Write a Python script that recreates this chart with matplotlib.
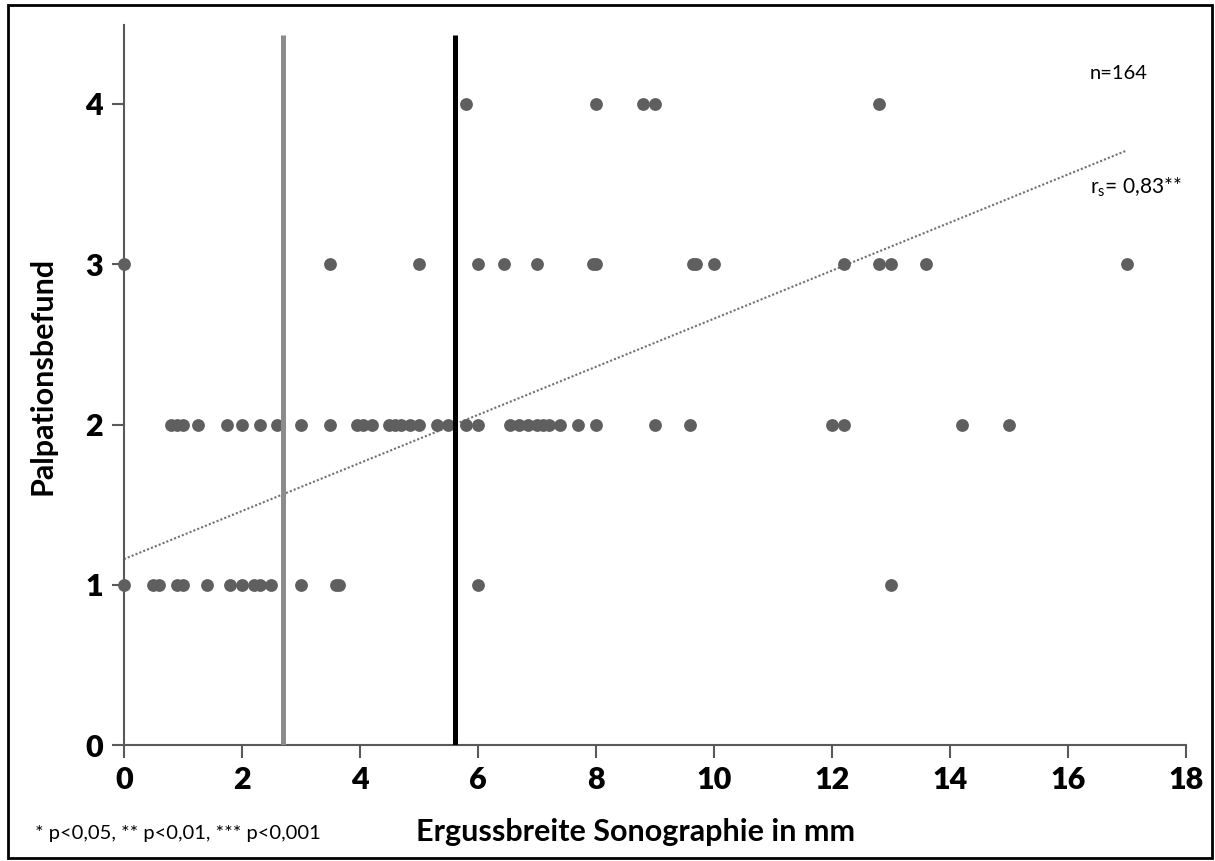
import matplotlib
matplotlib.use("Agg")
import matplotlib.pyplot as plt
import numpy as np
from matplotlib.patches import Rectangle

# ---- data ----
x_level4 = [5.8, 8.0, 8.8, 9.0, 12.8]
x_level3 = [0, 3.5, 5.0, 6.0, 6.45, 7.0, 7.95, 8.0, 9.65, 9.7, 10.0, 12.2, 12.8, 13.0, 13.6, 17.0]
x_level2 = [0.8, 0.9, 1.0, 1.25, 1.75, 2.0, 2.3, 2.6, 3.0, 3.5, 3.95, 4.05, 4.2, 4.5, 4.6,
            4.7, 4.85, 5.0, 5.3, 5.5, 5.8, 6.0, 6.55, 6.7, 6.85, 7.0, 7.1, 7.2, 7.4, 7.7,
            8.0, 9.0, 9.6, 12.0, 12.2, 14.2, 15.0]
x_level1 = [0, 0.5, 0.6, 0.9, 1.0, 1.4, 1.8, 2.0, 2.2, 2.3, 2.5, 3.0, 3.6, 3.65, 6.0, 13.0]
levels = [4, 3, 2, 1]

trend_x = [0, 17]
trend_y = [1.16, 3.71]

grey_line_x = 2.69
black_line_x = 5.61

x_ticks = [0, 2, 4, 6, 8, 10, 12, 14, 16, 18]
y_ticks = [0, 1, 2, 3, 4]

FONT = "Lato"
plt.rcParams['font.family'] = [FONT, 'DejaVu Sans']

fig = plt.figure(figsize=(12.15, 8.61), dpi=100)
ax = fig.add_axes([0.102, 0.1347, 0.874, 0.8363])

xs = []
ys = []
for lv, arr in zip(levels, [x_level4, x_level3, x_level2, x_level1]):
    xs += arr
    ys += [lv] * len(arr)
ax.scatter(xs, ys, s=85, color="#5f5f5f", zorder=3, linewidths=0, clip_on=False)

ax.plot(trend_x, trend_y, linestyle=(0, (1, 1)), color="#707070", linewidth=1.5, zorder=2)

ax.vlines(grey_line_x, 0, 4.43, color="#8c8c8c", linewidth=3.6, zorder=4)
ax.vlines(black_line_x, 0, 4.43, color="#000000", linewidth=3.6, zorder=4)

ax.set_xlim(0, 18)
ax.set_ylim(0, 4.493)
ax.set_xticks(x_ticks)
ax.set_yticks(y_ticks)
ax.set_xticklabels([str(t) for t in x_ticks], fontsize=22, fontweight="heavy")
ax.set_yticklabels([str(t) for t in y_ticks], fontsize=22, fontweight="heavy")
ax.tick_params(axis="both", direction="out", length=9, width=1.5, color="#595959", pad=6)

for s in ["top", "right"]:
    ax.spines[s].set_visible(False)
for s in ["left", "bottom"]:
    ax.spines[s].set_color("#595959")
    ax.spines[s].set_linewidth(1.5)

fig.text(0.523, 0.034, "Ergussbreite Sonographie in mm", fontsize=22, fontweight="bold",
         ha="center", va="center")
fig.text(0.035, 0.5635, "Palpationsbefund", fontsize=22, fontweight="bold",
         ha="center", va="center", rotation=90)

fig.text(0.897, 0.915, "n=164", fontsize=14.5, ha="left", va="center")
fig.text(0.897, 0.782, r"r$_\mathregular{s}$= 0,83**", fontsize=15, ha="left", va="center")
fig.text(0.029, 0.032, "* p<0,05, ** p<0,01, *** p<0,001", fontsize=14.5, ha="left", va="center")

fig.patches.append(Rectangle((0.0066, 0.004), 0.991, 0.99, transform=fig.transFigure,
                             fill=False, edgecolor="black", linewidth=2))

fig.savefig("out.png", dpi=100)
